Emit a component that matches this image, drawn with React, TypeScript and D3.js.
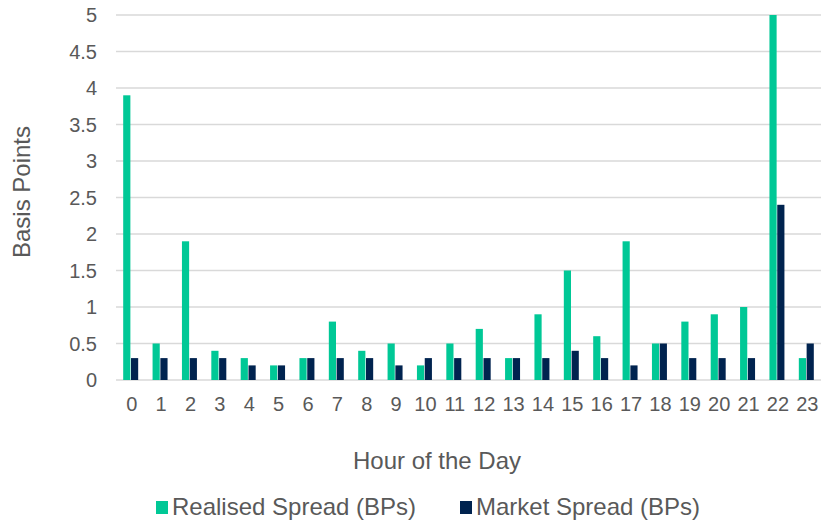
import React, { useEffect, useRef } from "react";
import * as d3 from "d3";

// chart size
const WIDTH = 821;
const HEIGHT = 520;

// data
const hours: string[] = [
  "0", "1", "2", "3", "4", "5", "6", "7", "8", "9", "10", "11",
  "12", "13", "14", "15", "16", "17", "18", "19", "20", "21", "22", "23",
];
const realisedSpread: number[] = [
  3.9, 0.5, 1.9, 0.4, 0.3, 0.2, 0.3, 0.8, 0.4, 0.5, 0.2, 0.5,
  0.7, 0.3, 0.9, 1.5, 0.6, 1.9, 0.5, 0.8, 0.9, 1.0, 5.0, 0.3,
];
const marketSpread: number[] = [
  0.3, 0.3, 0.3, 0.3, 0.2, 0.2, 0.3, 0.3, 0.3, 0.2, 0.3, 0.3,
  0.3, 0.3, 0.3, 0.4, 0.3, 0.2, 0.5, 0.3, 0.3, 0.3, 2.4, 0.5,
];
const seriesNames: string[] = ["Realised Spread (BPs)", "Market Spread (BPs)"];
const yTicks: number[] = [0, 0.5, 1, 1.5, 2, 2.5, 3, 3.5, 4, 4.5, 5];

const COLORS = ["#00C896", "#00234F"];
const TEXT = "#595959";
const GRID = "#D9D9D9";
const FONT = "'Liberation Sans', Arial, sans-serif";

const App: React.FC = () => {
  const ref = useRef<SVGSVGElement | null>(null);

  useEffect(() => {
    if (!ref.current) return;
    const svg = d3.select(ref.current);
    svg.selectAll("*").remove();

    const left = 116;
    const right = 821;
    const top = 15;
    const bottom = 380;

    const x0 = d3
      .scaleBand<string>()
      .domain(hours)
      .range([left, right])
      .paddingInner(0.49)
      .paddingOuter(0.245);

    const x1 = d3
      .scaleBand<number>()
      .domain([0, 1])
      .range([0, x0.bandwidth()])
      .paddingInner(0.08);

    const y = d3.scaleLinear().domain([0, 5]).range([bottom, top]);

    // grid lines
    svg
      .append("g")
      .selectAll("line")
      .data(yTicks)
      .enter()
      .append("line")
      .attr("x1", left)
      .attr("x2", right)
      .attr("y1", (d) => y(d))
      .attr("y2", (d) => y(d))
      .attr("stroke", GRID)
      .attr("stroke-width", 1.3);

    // y tick labels
    svg
      .append("g")
      .selectAll("text")
      .data(yTicks)
      .enter()
      .append("text")
      .attr("x", 97)
      .attr("y", (d) => y(d))
      .attr("dy", "0.35em")
      .attr("text-anchor", "end")
      .attr("font-family", FONT)
      .attr("font-size", 20)
      .attr("fill", TEXT)
      .text((d) => String(d));

    // bars
    const groups = svg
      .append("g")
      .selectAll("g")
      .data(hours)
      .enter()
      .append("g")
      .attr("transform", (d) => `translate(${x0(d)},0)`);

    groups
      .selectAll("rect")
      .data((_, i) => [realisedSpread[i], marketSpread[i]])
      .enter()
      .append("rect")
      .attr("x", (_, j) => x1(j) || 0)
      .attr("y", (d) => y(d))
      .attr("width", x1.bandwidth())
      .attr("height", (d) => bottom - y(d))
      .attr("fill", (_, j) => COLORS[j]);

    // x tick labels
    svg
      .append("g")
      .selectAll("text")
      .data(hours)
      .enter()
      .append("text")
      .attr("x", (d) => (x0(d) || 0) + x0.bandwidth() / 2 + 1)
      .attr("y", 411)
      .attr("text-anchor", "middle")
      .attr("font-family", FONT)
      .attr("font-size", 20)
      .attr("fill", TEXT)
      .text((d) => d);

    // axis titles
    svg
      .append("text")
      .attr("x", 437)
      .attr("y", 469)
      .attr("text-anchor", "middle")
      .attr("font-family", FONT)
      .attr("font-size", 24)
      .attr("fill", TEXT)
      .text("Hour of the Day");

    svg
      .append("text")
      .attr("transform", "translate(30,192) rotate(-90)")
      .attr("text-anchor", "middle")
      .attr("font-family", FONT)
      .attr("font-size", 24)
      .attr("fill", TEXT)
      .text("Basis Points");

    // legend
    const legendX = [156, 460];
    const legend = svg
      .append("g")
      .selectAll("g")
      .data(seriesNames)
      .enter()
      .append("g")
      .attr("transform", (_, i) => `translate(${legendX[i]},0)`);

    legend
      .append("rect")
      .attr("x", 0)
      .attr("y", 501)
      .attr("width", 12)
      .attr("height", 13)
      .attr("fill", (_, i) => COLORS[i]);

    legend
      .append("text")
      .attr("x", 16)
      .attr("y", 515)
      .attr("font-family", FONT)
      .attr("font-size", 24)
      .attr("fill", TEXT)
      .text((d) => d);
  }, []);

  return (
    <svg
      ref={ref}
      width={WIDTH}
      height={HEIGHT}
      style={{ position: "absolute", left: 0, top: 0, background: "#fff" }}
    />
  );
};

export default App;
